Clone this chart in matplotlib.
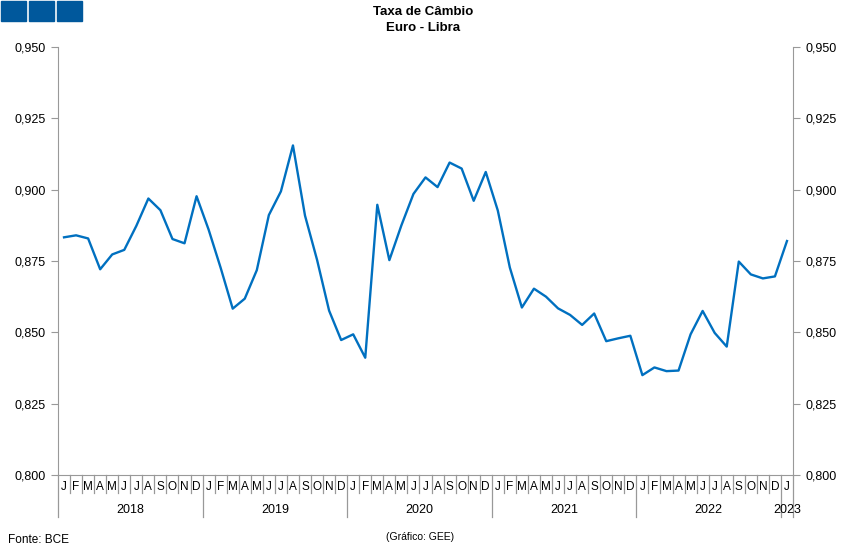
import matplotlib
matplotlib.use('Agg')
from matplotlib import pyplot as plt
from matplotlib.patches import Rectangle
from matplotlib.ticker import FuncFormatter

# monthly EUR/GBP, Jan 2018 .. Jan 2023
years: list[str] = ['2018', '2019', '2020', '2021', '2022', '2023']
month_letters: list[str] = ['J', 'F', 'M', 'A', 'M', 'J', 'J', 'A', 'S', 'O', 'N', 'D']
rate: list[float] = [
    0.8833, 0.8840, 0.8829, 0.8721, 0.8773, 0.8789, 0.8873, 0.8969, 0.8928, 0.8827, 0.8812, 0.8977,
    0.8860, 0.8726, 0.8583, 0.8618, 0.8718, 0.8911, 0.8994, 0.9155, 0.8909, 0.8754, 0.8576, 0.8473,
    0.8493, 0.8411, 0.8947, 0.8753, 0.8875, 0.8985, 0.9043, 0.9009, 0.9095, 0.9074, 0.8961, 0.9062,
    0.8927, 0.8727, 0.8587, 0.8653, 0.8625, 0.8584, 0.8561, 0.8526, 0.8566, 0.8469, 0.8479, 0.8488,
    0.8350, 0.8377, 0.8364, 0.8366, 0.8493, 0.8575, 0.8498, 0.8450, 0.8748, 0.8703, 0.8689, 0.8696,
    0.8820,
]

plt.rcParams['font.family'] = ['Liberation Sans', 'DejaVu Sans']
grey = '#999999'

fig = plt.figure(figsize=(8.5, 5.55), dpi=100)
ax = fig.add_axes([58 / 850, 1 - 475 / 555, 735 / 850, 428 / 555])

x = list(range(len(rate)))
ax.plot(x, rate, color='#0070C0', lw=1.7)

ax.set_xlim(-0.5, len(rate) - 0.5)
ax.set_ylim(0.8, 0.95)
ax.set_yticks([0.8 + 0.025 * i for i in range(7)])
ax.yaxis.set_major_formatter(FuncFormatter(lambda v, p: f'{v:.3f}'.replace('.', ',')))
ax.tick_params(axis='y', left=True, right=True, labelleft=True, labelright=True,
               length=5, color=grey, labelsize=9, pad=4)

labels = [month_letters[i % 12] for i in x]
ax.set_xticks(x, labels=labels)
ax.tick_params(axis='x', length=0, labelsize=8.5, pad=4)

for side in ['left', 'right', 'bottom']:
    ax.spines[side].set_color(grey)
ax.spines['top'].set_visible(False)

# month / year separators below the axis
trans = ax.get_xaxis_transform()
for i in range(len(rate) + 1):
    depth = -42 / 428 if i % 12 == 0 or i == len(rate) else -18 / 428
    ax.plot([i - 0.5, i - 0.5], [0, depth], color=grey, lw=0.9, transform=trans, clip_on=False)

for k, year in enumerate(years):
    n = min(12, len(rate) - 12 * k)
    ax.text(12 * k + (n - 1) / 2, -35 / 428, year, transform=trans, ha='center', va='center', fontsize=9)

# header squares
for sx in [1, 29, 57]:
    fig.patches.append(Rectangle((sx / 850, 1 - 21 / 555), 25 / 850, 20 / 555,
                                 transform=fig.transFigure, color='#00589C'))

fig.text(423 / 850, 1 - 12 / 555, 'Taxa de Câmbio', ha='center', va='center', fontsize=9.5, fontweight='bold')
fig.text(423 / 850, 1 - 28 / 555, 'Euro - Libra', ha='center', va='center', fontsize=9.5, fontweight='bold')
fig.text(8 / 850, 1 - 540 / 555, 'Fonte: BCE', ha='left', va='center', fontsize=8.5)
fig.text(420 / 850, 1 - 537 / 555, '(Gráfico: GEE)', ha='center', va='center', fontsize=7.5)

fig.savefig('out.png', dpi=100)
